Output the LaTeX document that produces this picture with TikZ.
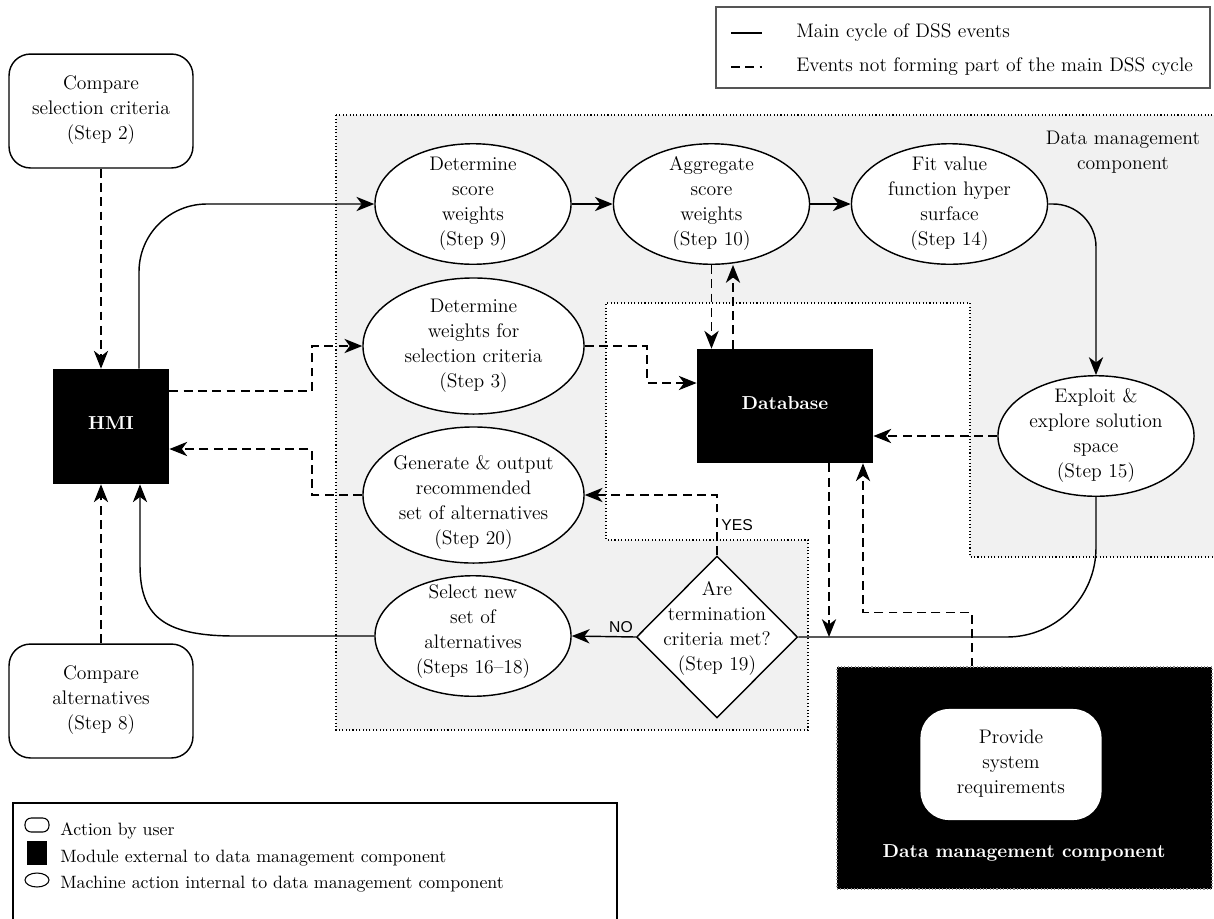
\documentclass[tikz,border=0pt]{standalone}
\usepackage{fontspec}
\usetikzlibrary{arrows.meta,shapes.geometric,calc}
\newfontfamily\tagfont{Liberation Sans}
\definecolor{dmcfill}{RGB}{241,241,241}
\definecolor{keyframe}{RGB}{85,85,85}
% centred multi-line text that does not enlarge its node
\newcommand{\ctext}[2][-2pt]{\makebox[0pt]{\smash{\raisebox{#1}{\begin{tabular}{@{}c@{}}#2\end{tabular}}}}}
\begin{document}
\begin{tikzpicture}[x=0.56pt,y=-0.56pt,font=\fontsize{11}{14}\selectfont,
  usernode/.style={draw,line width=0.8pt,fill=white,rounded corners=12pt,inner sep=0pt,minimum width=103pt,minimum height=63.8pt},
  modnode/.style={fill=black,text=white,inner sep=0pt,font=\fontsize{10.5}{13}\selectfont\bfseries},
  machnode/.style={ellipse,draw,line width=0.8pt,fill=white,inner sep=0pt,minimum width=109.8pt,minimum height=67.5pt},
  widemach/.style={machnode,minimum width=123.8pt,minimum height=76.2pt},
  decnode/.style={diamond,draw,line width=0.8pt,fill=white,inner sep=0pt,minimum width=90.2pt,minimum height=90.7pt},
  mainflow/.style={line width=0.8pt},
  sideflow/.style={line width=0.8pt,dash pattern=on 5pt off 3pt},
  flowtip/.style={-{Stealth[length=10pt,width=8pt,inset=3pt]}},
  tag/.style={font=\tagfont\fontsize{8.8}{10}\selectfont,inner sep=2pt},
  dotline/.style={line width=0.6pt,dash pattern=on 0.6pt off 1.3pt},
  keytext/.style={anchor=west,inner sep=0pt},
]
\useasboundingbox (0,0) rectangle (1214,918);

% data management component region (grey, with the database area cut out)
\draw[dotline,fill=dmcfill] (336,115) -- (1220,115) -- (1220,557) -- (970,557) -- (970,303)
  -- (606,303) -- (606,540) -- (808,540) -- (808,730) -- (336,730) -- cycle;
\node[align=center] (dmclabel) at (1123,152) {Data management\\component};

% user actions
\node[usernode] (cmp2) at (101,111) {\ctext{Compare\\selection criteria\\(Step 2)}};
\node[usernode] (cmp8) at (101,701) {\ctext{Compare\\alternatives\\(Step 8)}};

% external modules
\node[modnode,minimum width=65pt,minimum height=64.4pt] (hmi) at (111,426.5) {\ctext{HMI}};
\node[modnode,minimum width=98.6pt,minimum height=63.8pt] (db) at (785,406) {\ctext{Database}};

% machine actions
\node[machnode] (s9) at (473,204) {\ctext{Determine\\score\\weights\\(Step 9)}};
\node[machnode] (s10) at (711.5,204) {\ctext{Aggregate\\score\\weights\\(Step 10)}};
\node[machnode] (s14) at (949.5,204) {\ctext{Fit value\\function hyper\\surface\\(Step 14)}};
\node[machnode] (s15) at (1096,436) {\ctext{Exploit \&\\explore solution\\space\\(Step 15)}};
\node[widemach] (s3) at (473.5,346) {\ctext{Determine\\weights for\\selection criteria\\(Step 3)}};
\node[widemach] (s20) at (473.5,495) {\ctext[-6.5pt]{Generate \& output\\recommended\\set of alternatives\\(Step 20)}};
\node[machnode] (s16) at (473,636) {\ctext[0pt]{Select new\\set of\\alternatives\\(Steps 16--18)}};
\node[decnode] (dec) at (717,637) {\ctext[2.5pt]{Are\\termination\\criteria met?\\(Step 19)}};

% external data management component
\node[fill=black,draw=black!45,dotline,inner sep=0pt,minimum width=210pt,minimum height=124.3pt] (dmc) at (1024.5,778) {};
\node[usernode,draw=none,rounded corners=16pt,minimum width=101.4pt,minimum height=62.2pt] (req) at (1011,764.5) {\ctext{Provide\\system\\requirements}};
\node[modnode] (dmcname) at (1024,853) {Data management component};

% connection points
\coordinate (hmiup) at ($(hmi.north)+(28,0)$);
\coordinate (hmiback) at ($(hmi.south)+(29,0)$);
\coordinate (hmiout) at ($(hmi.east)+(0,-35.5)$);
\coordinate (hmiin) at ($(hmi.east)+(0,22.5)$);
\coordinate (dbup) at ($(db.north)+(-52,0)$);
\coordinate (dbout) at ($(db.south)+(44,0)$);
\coordinate (dbin) at ($(db.south)+(78,0)$);
\coordinate (reqout) at ($(dmc.north)+(-52.5,0)$);
\coordinate (s3bend) at (647,383);

% main DSS cycle
\draw[mainflow,flowtip,rounded corners=38pt] (hmiup) |- (s9.west);
\draw[mainflow,flowtip] (s9) -- (s10);
\draw[mainflow,flowtip] (s10) -- (s14);
\draw[mainflow,flowtip,rounded corners=24pt] (s14.east) -| (s15.north);
\draw[mainflow,rounded corners=50pt] (s15.south) |- (dec.east);
\draw[mainflow,flowtip] (dec.west) -- (s16.east) node[tag,pos=0.23,above] {NO};
\draw[mainflow,flowtip] (s16.west) -- (235,636) .. controls (162,636) and (140,615) .. (140,565) -- (hmiback);

% events outside the main cycle
\draw[sideflow,flowtip] (cmp2.south) -- (cmp2.south |- hmi.north);
\draw[sideflow,flowtip] (cmp8.north) -- (cmp8.north |- hmi.south);
\draw[sideflow,flowtip] (hmiout) -| (312,346) -- (s3.west);
\draw[sideflow,flowtip] (s20.west) -| (312,449) -- (hmiin);
\draw[sideflow,flowtip] (s3.east) -| (s3bend) -- (s3bend -| db.west);
\draw[sideflow,flowtip] (s10.south) -- (s10.south |- db.north);
\draw[sideflow,flowtip] (dbup) -- (dbup |- s10.south);
\draw[sideflow,flowtip] (s15.west) -- (s15.west -| db.east);
\draw[sideflow,flowtip] (dbout) -- (dbout |- dec.east);
\draw[sideflow,flowtip] (reqout) -- ++(0,-54) -| (dbin);
\draw[sideflow,flowtip] (dec.north) |- (s20.east) node[tag,pos=0.25,right] {YES};

% line style key
\node[draw=keyframe,line width=1.2pt,inner sep=0pt,minimum width=276.6pt,minimum height=45.4pt] (linekey) at (963,47.5) {};
\draw[mainflow] (731,33) -- (762,33);
\draw[sideflow] (731,67) -- (762,67);
\node[keytext] (keymain) at (796,33) {Main cycle of DSS events};
\node[keytext] (keyside) at (796,67) {Events not forming part of the main DSS cycle};

% shape key
\draw[line width=0.7pt] (13,803) rectangle (617,940);
\draw[line width=0.6pt,rounded corners=3.5pt] (25,818) rectangle (49,832);
\fill (27,841) rectangle (47,865);
\draw[line width=0.6pt] (37,880) ellipse [x radius=12,y radius=7];
\begin{scope}[font=\fontsize{10}{12}\selectfont]
\node[keytext] (keyuser) at (60,831) {Action by user};
\node[keytext] (keymod) at (60,858) {Module external to data management component};
\node[keytext] (keymach) at (60,884) {Machine action internal to data management component};
\end{scope}
\end{tikzpicture}
\end{document}
